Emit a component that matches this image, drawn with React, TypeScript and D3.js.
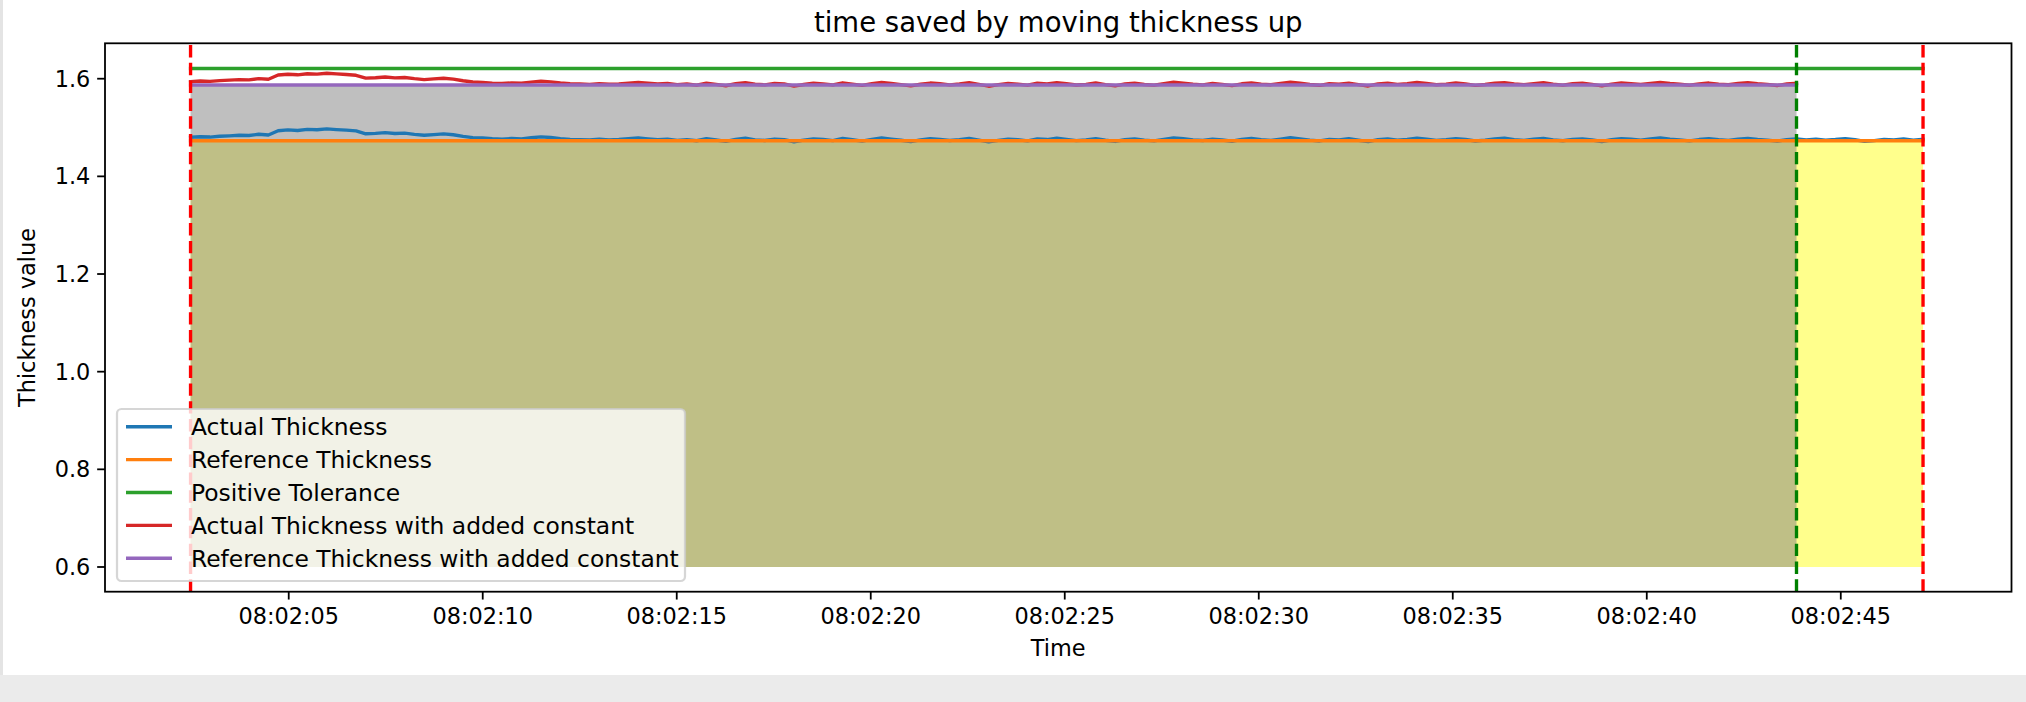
import React from "react";
import * as d3 from "d3";

// ---------- data ----------
const TITLE = "time saved by moving thickness up";
const X_LABEL = "Time";
const Y_LABEL = "Thickness value";

const SERIES_NAMES = [
  "Actual Thickness",
  "Reference Thickness",
  "Positive Tolerance",
  "Actual Thickness with added constant",
  "Reference Thickness with added constant",
];
const SERIES_COLORS = ["#1f77b4", "#ff7f0e", "#2ca02c", "#d62728", "#9467bd"];

const Y_TICKS = [0.6, 0.8, 1.0, 1.2, 1.4, 1.6];
const X_TICKS = ["08:02:05", "08:02:10", "08:02:15", "08:02:20", "08:02:25", "08:02:30", "08:02:35", "08:02:40", "08:02:45"];

const DAY = "2024-01-01";
const SAMPLE_START = "08:02:02.470";
const SAMPLE_END = "08:02:47.120";
const X_DOMAIN = ["08:02:00.265", "08:02:49.400"];
const Y_DOMAIN = [0.5494, 1.6725];

const REFERENCE = 1.473;
const ADDED_CONSTANT = 0.114;
const POSITIVE_TOLERANCE = 1.621;
const FILL_BASE = 0.6;
const SHIFTED_POINTS = 166; // samples kept for the shifted series (until the green marker)

const ACTUAL = [
  1.4800, 1.4812, 1.4805, 1.4822, 1.4830, 1.4841, 1.4836, 1.4862, 1.4848, 1.4935,
  1.4951, 1.4940, 1.4962, 1.4955, 1.4972, 1.4958, 1.4946, 1.4930, 1.4872, 1.4880,
  1.4895, 1.4878, 1.4884, 1.4860, 1.4842, 1.4856, 1.4870, 1.4852, 1.4818, 1.4792,
  1.4785, 1.4770, 1.4762, 1.4775, 1.4768, 1.4790, 1.4808, 1.4795, 1.4772, 1.4758,
  1.4752, 1.4745, 1.4760, 1.4748, 1.4755, 1.4770, 1.4785, 1.4768, 1.4752,
  1.4762, 1.4738, 1.4751, 1.4729, 1.4770, 1.4744, 1.4716, 1.4758, 1.4781, 1.4747,
  1.4735, 1.4764, 1.4752, 1.4709, 1.4741, 1.4768, 1.4755, 1.4732, 1.4776, 1.4749,
  1.4722, 1.4758, 1.4785, 1.4762, 1.4740, 1.4712, 1.4746, 1.4771, 1.4758, 1.4734,
  1.4751, 1.4779, 1.4744, 1.4706, 1.4738, 1.4763, 1.4749, 1.4727, 1.4768, 1.4754,
  1.4781, 1.4757, 1.4731, 1.4745, 1.4772, 1.4740, 1.4715, 1.4753, 1.4766, 1.4742,
  1.4728, 1.4759, 1.4788, 1.4770, 1.4748, 1.4735, 1.4761, 1.4744, 1.4719, 1.4756,
  1.4775, 1.4750, 1.4737, 1.4764, 1.4791, 1.4768, 1.4742, 1.4725, 1.4757, 1.4746,
  1.4770, 1.4739, 1.4711, 1.4752, 1.4767, 1.4743, 1.4758, 1.4783, 1.4761, 1.4736,
  1.4749, 1.4772, 1.4755, 1.4724, 1.4741, 1.4766, 1.4780, 1.4753, 1.4738, 1.4760,
  1.4777, 1.4748, 1.4730, 1.4756, 1.4769, 1.4745, 1.4714, 1.4750, 1.4773, 1.4759,
  1.4741, 1.4765, 1.4786, 1.4763, 1.4747, 1.4728, 1.4754, 1.4771, 1.4749, 1.4736,
  1.4762, 1.4779, 1.4758, 1.4743, 1.4720, 1.4752, 1.4768, 1.4745, 1.4761, 1.4739,
  1.4754, 1.4774, 1.4750, 1.4716, 1.4733, 1.4757, 1.4748, 1.4765, 1.4742, 1.4760,
];

// ---------- layout ----------
const W = 2026;
const H = 702;
const AX = { left: 105, right: 2011.5, top: 43.3, bottom: 591.7 };
const PT = 2.24; // px per point
const FONT = "'DejaVu Sans', sans-serif";
const FS = 22.4;
const LEGEND_FS = 23.4;
const TITLE_FS = 27.5;
const LW = 1.5 * PT;

const parse = (s: string) => new Date(`${DAY}T${s}`);

export default function App() {
  const x = d3.scaleTime().domain(X_DOMAIN.map(parse)).range([AX.left, AX.right]);
  const y = d3.scaleLinear().domain(Y_DOMAIN).range([AX.bottom, AX.top]);

  const t0 = parse(SAMPLE_START);
  const t1 = parse(SAMPLE_END);
  const idxToTime = d3.scaleLinear().domain([0, ACTUAL.length - 1]).range([+t0, +t1]);
  const times = ACTUAL.map((_, i) => new Date(idxToTime(i)));
  const tShiftEnd = times[SHIFTED_POINTS - 1];

  type P = [Date, number];
  const actualPts: P[] = ACTUAL.map((v, i) => [times[i], v]);
  const refPts: P[] = times.map((t) => [t, REFERENCE]);
  const tolPts: P[] = [[t0, POSITIVE_TOLERANCE], [t1, POSITIVE_TOLERANCE]];
  const actualShift: P[] = actualPts.slice(0, SHIFTED_POINTS).map(([t, v]) => [t, v + ADDED_CONSTANT]);
  const refShift: P[] = refPts.slice(0, SHIFTED_POINTS).map(([t, v]) => [t, v + ADDED_CONSTANT]);

  const line = d3.line<P>().x((d) => x(d[0])).y((d) => y(d[1]));
  const area = d3.area<P>().x((d) => x(d[0])).y0(y(FILL_BASE)).y1((d) => y(d[1]));

  const series: P[][] = [actualPts, refPts, tolPts, actualShift, refShift];

  const yMid = (AX.top + AX.bottom) / 2;
  const xMid = (AX.left + AX.right) / 2;
  const dash = `${3.7 * LW} ${1.6 * LW}`;

  const vlines = [
    { t: t0, color: "#ff0000" },
    { t: t1, color: "#ff0000" },
    { t: tShiftEnd, color: "#008000" },
  ];

  const legend = { x: 117, y: 409, w: 568, h: 172, row0: 426.7, rowStep: 32.9 };

  return (
    <div style={{ position: "fixed", left: 0, top: 0 }}>
      <svg width={W} height={H} style={{ display: "block", fontFamily: FONT }}>
        <rect x={0} y={0} width={W} height={H} fill="#ffffff" />
        <rect x={0} y={675} width={W} height={H - 675} fill="#ebebeb" />
        <rect x={0} y={0} width={3} height={675} fill="#e4e4e4" />

        <defs>
          <clipPath id="axclip">
            <rect x={AX.left} y={AX.top} width={AX.right - AX.left} height={AX.bottom - AX.top} />
          </clipPath>
        </defs>

        {/* title */}
        <text x={xMid} y={32} textAnchor="middle" fontSize={TITLE_FS} fill="#000">
          {TITLE}
        </text>

        <g clipPath="url(#axclip)">
          {/* fills */}
          <path d={area(refPts) || ""} fill="#ffff00" fillOpacity={0.45} />
          <path d={area(refShift) || ""} fill="#808080" fillOpacity={0.5} />

          {/* lines */}
          {series.map((pts, i) => (
            <path
              key={i}
              d={line(pts) || ""}
              fill="none"
              stroke={SERIES_COLORS[i]}
              strokeWidth={LW}
              strokeLinejoin="round"
              strokeLinecap="square"
            />
          ))}

          {/* vertical markers */}
          {vlines.map((v, i) => (
            <line
              key={i}
              x1={x(v.t)}
              x2={x(v.t)}
              y1={AX.bottom}
              y2={AX.top}
              stroke={v.color}
              strokeWidth={LW}
              strokeDasharray={dash}
            />
          ))}
        </g>

        {/* spines */}
        <rect
          x={AX.left}
          y={AX.top}
          width={AX.right - AX.left}
          height={AX.bottom - AX.top}
          fill="none"
          stroke="#000"
          strokeWidth={0.8 * PT}
        />

        {/* y ticks */}
        {Y_TICKS.map((v) => (
          <g key={v}>
            <line x1={AX.left - 3.5 * PT} x2={AX.left} y1={y(v)} y2={y(v)} stroke="#000" strokeWidth={0.8 * PT} />
            <text x={AX.left - 3.5 * PT - 3.5 * PT + 1} y={y(v)} dy="0.36em" textAnchor="end" fontSize={FS} fill="#000">
              {d3.format(".1f")(v)}
            </text>
          </g>
        ))}

        {/* x ticks */}
        {X_TICKS.map((s) => {
          const t = parse(s);
          const px = x(t);
          return (
            <g key={s}>
              <line x1={px} x2={px} y1={AX.bottom} y2={AX.bottom + 3.5 * PT} stroke="#000" strokeWidth={0.8 * PT} />
              <text x={px} y={624.3} textAnchor="middle" fontSize={FS} fill="#000">
                {d3.timeFormat("%H:%M:%S")(t)}
              </text>
            </g>
          );
        })}

        {/* axis labels */}
        <text x={xMid} y={656} textAnchor="middle" fontSize={FS} fill="#000">
          {X_LABEL}
        </text>
        <text transform={`translate(35,${yMid}) rotate(-90)`} textAnchor="middle" fontSize={FS} fill="#000">
          {Y_LABEL}
        </text>

        {/* legend */}
        <g>
          <rect
            x={legend.x}
            y={legend.y}
            width={legend.w}
            height={legend.h}
            rx={4.5}
            fill="#ffffff"
            fillOpacity={0.8}
            stroke="#cccccc"
            strokeOpacity={0.8}
            strokeWidth={PT}
          />
          {SERIES_NAMES.map((name, i) => {
            const cy = legend.row0 + i * legend.rowStep;
            return (
              <g key={name}>
                <line x1={126} x2={172} y1={cy} y2={cy} stroke={SERIES_COLORS[i]} strokeWidth={LW} />
                <text x={191} y={cy + 8.3} fontSize={LEGEND_FS} fill="#000">
                  {name}
                </text>
              </g>
            );
          })}
        </g>
      </svg>
    </div>
  );
}
